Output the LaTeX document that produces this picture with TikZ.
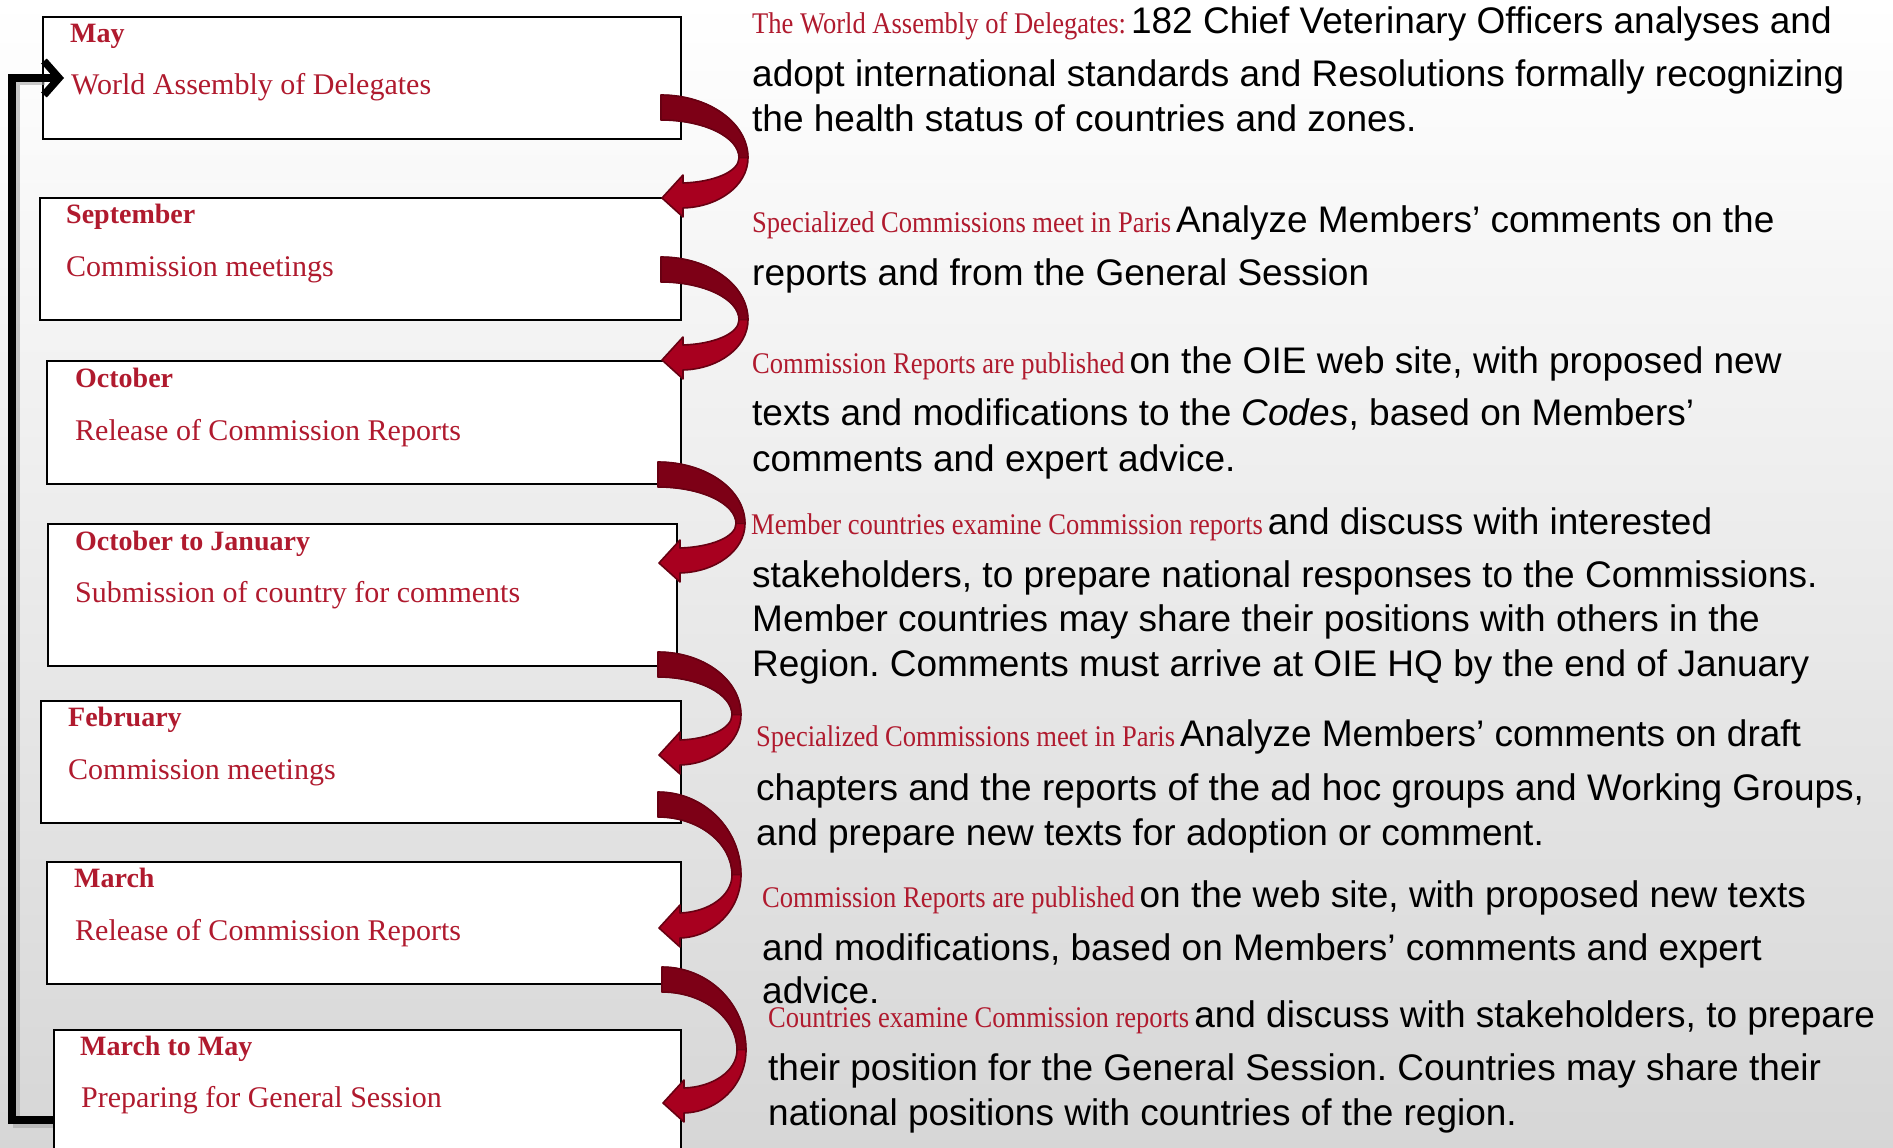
\documentclass[tikz,border=0pt]{standalone}
\usepackage{fontspec}
\usepackage{graphicx}
\setmainfont{Liberation Serif}
\newfontfamily\bodyfont{Liberation Sans}
\usetikzlibrary{arrows.meta}
\frenchspacing
\definecolor{labred}{HTML}{B01A2E}
\definecolor{arrdark}{HTML}{7D0016}
\definecolor{arrlight}{HTML}{A8001F}
\definecolor{arredge}{HTML}{680012}

\newcommand{\redlab}[1]{\scalebox{0.885}[1]{\rmfamily\fontsize{30}{32}\selectfont\color{labred}#1}\hspace{5pt}}

\newcommand{\ribbonarrow}[4]{%
 \begin{scope}[shift={(#1,#2)}]
 \pgfmathsetmacro{\raH}{#3}
 \pgfmathsetmacro{\raW}{#4}
 \pgfmathsetmacro{\raM}{0.61*#3}
 \fill[arrlight] (0,0) .. controls ({0.55*\raW},0) and (\raW,{0.27*\raH}) .. (\raW,\raM)
  .. controls (\raW,{\raM+0.55*(\raH+10-\raM)}) and ({22+0.55*(\raW-22)},{\raH+9}) .. (22,{\raH+10})
  -- (22,{\raH+19}) -- (1,\raH) -- (22,{\raH-23}) -- (22,{\raH-15})
  .. controls ({22+0.55*(\raW-31)},{\raH-16}) and ({\raW-9},{\raM+0.55*(\raH-15-\raM)}) .. ({\raW-9},\raM)
  .. controls ({\raW-9},{\raM-0.55*(\raM-25)}) and ({0.55*(\raW-9)},25) .. (0,25) -- cycle;
 \filldraw[fill=arrdark, draw=arredge, line width=1pt] (0,0) .. controls ({0.55*\raW},0) and (\raW,{0.27*\raH}) .. (\raW,\raM)
  -- ({\raW-9},\raM)
  .. controls ({\raW-9},{\raM-0.55*(\raM-25)}) and ({0.55*(\raW-9)},25) .. (0,25) -- cycle;
 \draw[arredge, line width=1.6pt, line join=round] (0,0) .. controls ({0.55*\raW},0) and (\raW,{0.27*\raH}) .. (\raW,\raM)
  .. controls (\raW,{\raM+0.55*(\raH+10-\raM)}) and ({22+0.55*(\raW-22)},{\raH+9}) .. (22,{\raH+10})
  -- (22,{\raH+19}) -- (1,\raH) -- (22,{\raH-23}) -- (22,{\raH-15})
  .. controls ({22+0.55*(\raW-31)},{\raH-16}) and ({\raW-9},{\raM+0.55*(\raH-15-\raM)}) .. ({\raW-9},\raM)
  .. controls ({\raW-9},{\raM-0.55*(\raM-25)}) and ({0.55*(\raW-9)},25) .. (0,25) -- cycle;
 \end{scope}}

\tikzset{
 boxnode/.style={draw=black, line width=2pt, fill=white, inner sep=0pt, anchor=north west},
 headtxt/.style={anchor=base west, inner sep=0pt, text=labred, font=\fontsize{28}{30}\selectfont\bfseries},
 subtxt/.style={anchor=base west, inner sep=0pt, text=labred, font=\fontsize{30}{32}\selectfont},
 bodytxt/.style={anchor=base west, inner sep=0pt, text=black, font=\bodyfont\fontsize{37}{40}\selectfont},
 loopline/.style={line width=7.5pt, black, line join=miter},
}

\begin{document}
\begin{tikzpicture}[x=1pt,y=-1pt]
\useasboundingbox (0,0) rectangle (1893,1148);
\clip (0,0) rectangle (1893,1148);
\shade[top color=white, middle color=black!6, bottom color=black!16] (0,0) rectangle (1893,1148);

% boxes
\node[boxnode, minimum width=638pt, minimum height=122pt] (b1) at (42,16) {};
\node[boxnode, minimum width=641pt, minimum height=122pt] (b2) at (39,197) {};
\node[boxnode, minimum width=634pt, minimum height=123pt] (b3) at (46,360) {};
\node[boxnode, minimum width=629pt, minimum height=142pt] (b4) at (47,523) {};
\node[boxnode, minimum width=640pt, minimum height=122pt] (b5) at (40,700) {};
\node[boxnode, minimum width=634pt, minimum height=122pt] (b6) at (46,861) {};
\node[boxnode, minimum width=627pt, minimum height=160pt] (b7) at (53,1029) {};

% box texts
\node[headtxt] (h1) at (70,43) {May};
\node[subtxt] (s1) at (71,95) {World Assembly of Delegates};
\node[headtxt] (h2) at (66,223) {September};
\node[subtxt] (s2) at (66,276) {Commission meetings};
\node[headtxt] (h3) at (75,387) {October};
\node[subtxt] (s3) at (75,440) {Release of Commission Reports};
\node[headtxt] (h4) at (75,550) {October to January};
\node[subtxt] (s4) at (75,602) {Submission of country for comments};
\node[headtxt] (h5) at (68,726) {February};
\node[subtxt] (s5) at (68,779) {Commission meetings};
\node[headtxt] (h6) at (74,887) {March};
\node[subtxt] (s6) at (75,940) {Release of Commission Reports};
\node[headtxt] (h7) at (80,1055) {March to May};
\node[subtxt] (s7) at (81,1107) {Preparing for General Session};

% loop connector
\coordinate (loopstart) at (53,1120);
\coordinate (loopend) at (64,78);
\draw[line width=7pt, black!35, opacity=0.6] (53,1124) -- (16,1124) -- (16,82) -- (45,82);
\draw[loopline, -{Straight Barb[length=15pt,width=34pt]}] (loopstart) -- (12,1120) -- (12,78) -- (loopend);

% red ribbon arrows
\ribbonarrow{661}{95}{103}{87}
\ribbonarrow{661}{257}{103}{87}
\ribbonarrow{658}{462}{101}{87}
\ribbonarrow{658}{652}{103}{83}
\ribbonarrow{658}{792}{136}{83}
\ribbonarrow{662}{967}{136}{84}

% right texts
\node[bodytxt] (p1a) at (752,34) {\redlab{The World Assembly of Delegates:}182 Chief Veterinary Officers analyses and};
\node[bodytxt] (p1b) at (752,86) {adopt international standards and Resolutions formally recognizing};
\node[bodytxt] (p1c) at (752,131) {the health status of countries and zones.};

\node[bodytxt] (p2a) at (752,232) {\redlab{Specialized Commissions meet in Paris}Analyze Members’ comments on the};
\node[bodytxt] (p2b) at (752,285) {reports and from the General Session};

\node[bodytxt] (p3a) at (752,373) {\redlab{Commission Reports are published}on the OIE web site, with proposed new};
\node[bodytxt] (p3b) at (752,425) {texts and modifications to the \textit{Codes}, based on Members’};
\node[bodytxt] (p3c) at (752,471) {comments and expert advice.};

\node[bodytxt] (p4a) at (751,534) {\redlab{Member countries examine Commission reports}and discuss with interested};
\node[bodytxt] (p4b) at (752,587) {stakeholders, to prepare national responses to the Commissions.};
\node[bodytxt] (p4c) at (752,631) {Member countries may share their positions with others in the};
\node[bodytxt] (p4d) at (752,676) {Region. Comments must arrive at OIE HQ by the end of January};

\node[bodytxt] (p5a) at (756,746) {\redlab{Specialized Commissions meet in Paris}Analyze Members’ comments on draft};
\node[bodytxt] (p5b) at (756,800) {chapters and the reports of the ad hoc groups and Working Groups,};
\node[bodytxt] (p5c) at (756,845) {and prepare new texts for adoption or comment.};

\node[bodytxt] (p6a) at (762,907) {\redlab{Commission Reports are published}on the web site, with proposed new texts};
\node[bodytxt] (p6b) at (762,960) {and modifications, based on Members’ comments and expert};
\node[bodytxt] (p6c) at (762,1003) {advice.};

\node[bodytxt] (p7a) at (768,1027) {\redlab{Countries examine Commission reports}and discuss with stakeholders, to prepare};
\node[bodytxt] (p7b) at (768,1080) {their position for the General Session. Countries may share their};
\node[bodytxt] (p7c) at (768,1125) {national positions with countries of the region.};
\end{tikzpicture}
\end{document}
